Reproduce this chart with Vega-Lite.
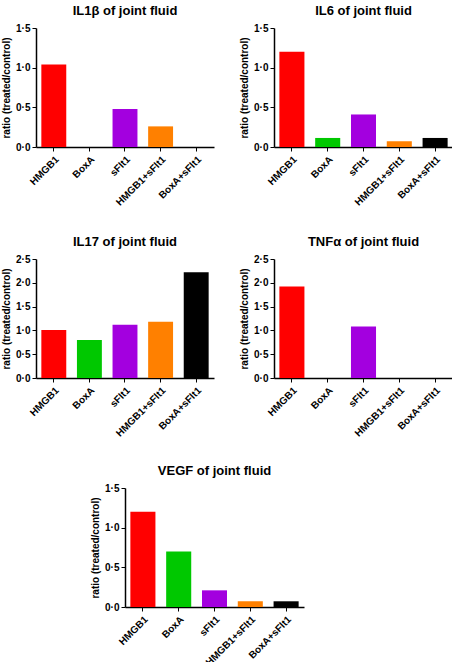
{
  "$schema": "https://vega.github.io/schema/vega-lite/v6.json",
  "background": "white",
  "padding": {"left": 1, "top": 5, "right": 3, "bottom": 3},
  "spacing": 26,
  "config": {
    "font": "Liberation Sans",
    "view": {"stroke": null},
    "title": {"font": "Liberation Sans", "fontSize": 13, "fontWeight": "bold", "color": "black", "offset": 5},
    "axis": {
      "domainColor": "black", "domainWidth": 1.5, "tickColor": "black", "tickWidth": 1, "tickSize": 4,
      "labelFont": "Liberation Sans", "labelFontSize": 10, "labelFontWeight": "bold", "labelColor": "black",
      "titleFont": "Liberation Sans", "titleFontSize": 10, "titleFontWeight": "bold", "titleColor": "black",
      "grid": false
    },
    "axisX": {"labelAngle": -45, "labelPadding": 3},
    "axisY": {"labelPadding": 2, "titlePadding": 4, "labelExpr": "replace(format(datum.value, '.1f'), '.', '·')"},
    "bar": {"stroke": null}
  },
  "vconcat": [
    {
      "spacing": 28,
      "vconcat": [
        {
          "hconcat": [
            {
              "title": "IL1β of joint fluid",
              "width": 178, "height": 119,
              "data": {"values": [
                {"group": "HMGB1", "ratio": 1.04},
                {"group": "BoxA", "ratio": 0},
                {"group": "sFlt1", "ratio": 0.48},
                {"group": "HMGB1+sFlt1", "ratio": 0.26},
                {"group": "BoxA+sFlt1", "ratio": 0}
              ]},
              "mark": {"type": "bar"},
              "encoding": {
                "x": {"field": "group", "type": "nominal", "sort": null, "title": null, "scale": {"paddingInner": 0.3, "paddingOuter": 0.15}},
                "y": {"field": "ratio", "type": "quantitative", "title": "ratio (treated/control)", "scale": {"domain": [0, 1.5]}, "axis": {"values": [0, 0.5, 1, 1.5]}},
                "color": {"field": "group", "type": "nominal", "legend": null, "scale": {"domain": ["HMGB1", "BoxA", "sFlt1", "HMGB1+sFlt1", "BoxA+sFlt1"], "range": ["#ff0000", "#00c800", "#a300df", "#ff8000", "#000000"]}}
              }
            },
            {
              "title": "IL6 of joint fluid",
              "width": 179, "height": 119,
              "data": {"values": [
                {"group": "HMGB1", "ratio": 1.2},
                {"group": "BoxA", "ratio": 0.114},
                {"group": "sFlt1", "ratio": 0.41},
                {"group": "HMGB1+sFlt1", "ratio": 0.072},
                {"group": "BoxA+sFlt1", "ratio": 0.114}
              ]},
              "mark": {"type": "bar"},
              "encoding": {
                "x": {"field": "group", "type": "nominal", "sort": null, "title": null, "scale": {"paddingInner": 0.3, "paddingOuter": 0.15}},
                "y": {"field": "ratio", "type": "quantitative", "title": "ratio (treated/control)", "scale": {"domain": [0, 1.5]}, "axis": {"values": [0, 0.5, 1, 1.5]}},
                "color": {"field": "group", "type": "nominal", "legend": null, "scale": {"domain": ["HMGB1", "BoxA", "sFlt1", "HMGB1+sFlt1", "BoxA+sFlt1"], "range": ["#ff0000", "#00c800", "#a300df", "#ff8000", "#000000"]}}
              }
            }
          ],
          "spacing": 25
        },
        {
          "hconcat": [
            {
              "title": "IL17 of joint fluid",
              "width": 178, "height": 119,
              "data": {"values": [
                {"group": "HMGB1", "ratio": 1.01},
                {"group": "BoxA", "ratio": 0.8},
                {"group": "sFlt1", "ratio": 1.12},
                {"group": "HMGB1+sFlt1", "ratio": 1.18},
                {"group": "BoxA+sFlt1", "ratio": 2.22}
              ]},
              "mark": {"type": "bar"},
              "encoding": {
                "x": {"field": "group", "type": "nominal", "sort": null, "title": null, "scale": {"paddingInner": 0.3, "paddingOuter": 0.15}},
                "y": {"field": "ratio", "type": "quantitative", "title": "ratio (treated/control)", "scale": {"domain": [0, 2.5]}, "axis": {"values": [0, 0.5, 1, 1.5, 2, 2.5]}},
                "color": {"field": "group", "type": "nominal", "legend": null, "scale": {"domain": ["HMGB1", "BoxA", "sFlt1", "HMGB1+sFlt1", "BoxA+sFlt1"], "range": ["#ff0000", "#00c800", "#a300df", "#ff8000", "#000000"]}}
              }
            },
            {
              "title": "TNFα of joint fluid",
              "width": 179, "height": 119,
              "data": {"values": [
                {"group": "HMGB1", "ratio": 1.92},
                {"group": "BoxA", "ratio": 0},
                {"group": "sFlt1", "ratio": 1.08},
                {"group": "HMGB1+sFlt1", "ratio": 0},
                {"group": "BoxA+sFlt1", "ratio": 0}
              ]},
              "mark": {"type": "bar"},
              "encoding": {
                "x": {"field": "group", "type": "nominal", "sort": null, "title": null, "scale": {"paddingInner": 0.3, "paddingOuter": 0.15}},
                "y": {"field": "ratio", "type": "quantitative", "title": "ratio (treated/control)", "scale": {"domain": [0, 2.5]}, "axis": {"values": [0, 0.5, 1, 1.5, 2, 2.5]}},
                "color": {"field": "group", "type": "nominal", "legend": null, "scale": {"domain": ["HMGB1", "BoxA", "sFlt1", "HMGB1+sFlt1", "BoxA+sFlt1"], "range": ["#ff0000", "#00c800", "#a300df", "#ff8000", "#000000"]}}
              }
            }
          ],
          "spacing": 25
        }
      ]
    },
    {
      "hconcat": [
        {
          "width": 34, "height": 119,
          "data": {"values": []},
          "mark": {"type": "rect"}
        },
        {
          "title": "VEGF of joint fluid",
          "width": 179, "height": 119,
          "data": {"values": [
            {"group": "HMGB1", "ratio": 1.2},
            {"group": "BoxA", "ratio": 0.7},
            {"group": "sFlt1", "ratio": 0.21},
            {"group": "HMGB1+sFlt1", "ratio": 0.072},
            {"group": "BoxA+sFlt1", "ratio": 0.072}
          ]},
          "mark": {"type": "bar"},
          "encoding": {
            "x": {"field": "group", "type": "nominal", "sort": null, "title": null, "scale": {"paddingInner": 0.3, "paddingOuter": 0.15}},
            "y": {"field": "ratio", "type": "quantitative", "title": "ratio (treated/control)", "scale": {"domain": [0, 1.5]}, "axis": {"values": [0, 0.5, 1, 1.5]}},
            "color": {"field": "group", "type": "nominal", "legend": null, "scale": {"domain": ["HMGB1", "BoxA", "sFlt1", "HMGB1+sFlt1", "BoxA+sFlt1"], "range": ["#ff0000", "#00c800", "#a300df", "#ff8000", "#000000"]}}
          }
        }
      ],
      "spacing": 20
    }
  ]
}
